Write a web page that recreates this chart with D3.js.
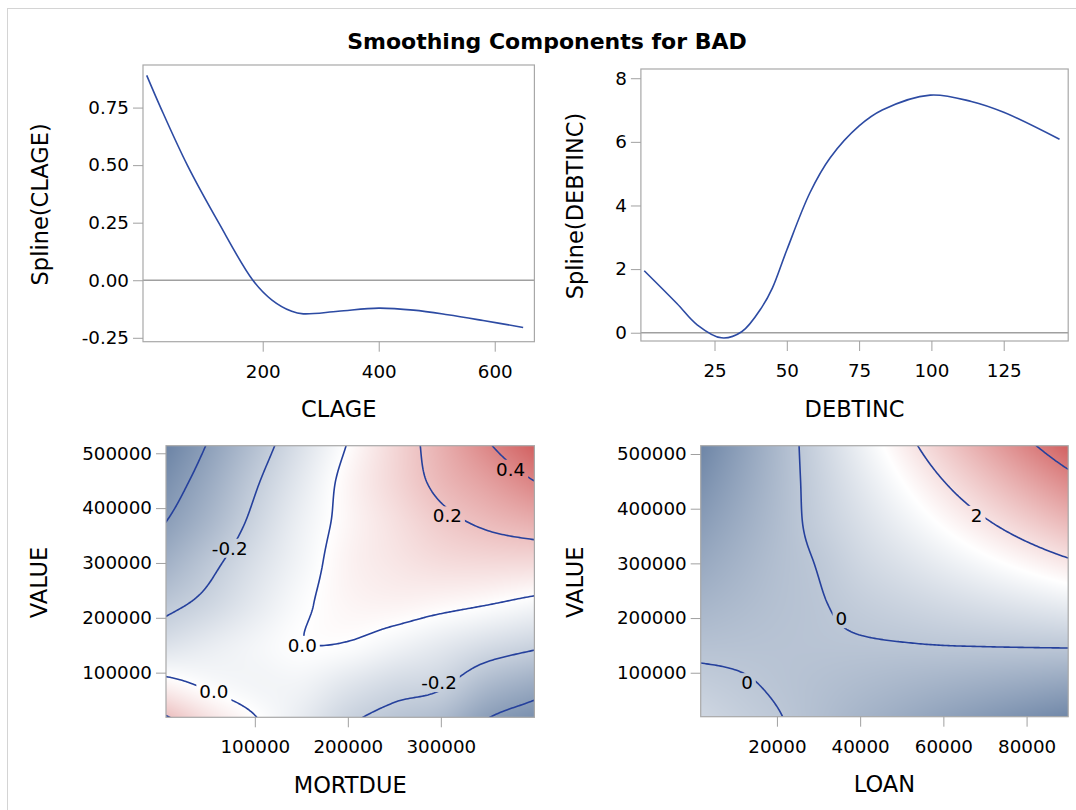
<!DOCTYPE html>
<html>
<head>
<meta charset="utf-8">
<script src="https://cdn.jsdelivr.net/npm/d3@7"></script>
<style>
  body { margin: 0; background: #fff; }
  text { font-family: "DejaVu Sans", sans-serif; fill: #000; }
</style>
</head>
<body>
<svg id="chart" width="1076" height="810"></svg>
<script>
// spline component for CLAGE
var clageX = [0, 24, 70, 124, 183, 216, 250, 270, 330, 400, 460, 519, 580, 649];
var clageY = [0.89, 0.75, 0.50, 0.25, 0.0, -0.086, -0.135, -0.146, -0.135, -0.121, -0.13, -0.15, -0.175, -0.205];
var clageTicks = [200, 400, 600];
var clageYTicks = [-0.25, 0, 0.25, 0.5, 0.75];

// spline component for DEBTINC
var debtX = [0.7, 12, 19, 27.4, 34.4, 41.5, 45, 50, 58, 65, 75, 83, 99.6, 113.8, 125, 144.3];
var debtY = [1.95, 0.92, 0.25, -0.16, 0.03, 0.82, 1.4, 2.6, 4.4, 5.5, 6.5, 7.0, 7.47, 7.27, 6.93, 6.08];
var debtTicks = [25, 50, 75, 100, 125];
var debtYTicks = [0, 2, 4, 6, 8];

// surface MORTDUE x VALUE (rows = VALUE, bottom to top)
var mortdueGrid = [0, 50000, 100000, 150000, 200000, 250000, 300000, 350000, 400000];
var valueGrid = [0, 75000, 150000, 225000, 300000, 375000, 450000, 525000];
var mortValueZ = [
  [0.28, 0.13, 0.02, -0.09, -0.20, -0.26, -0.31, -0.43, -0.49],
  [0.05, -0.01, -0.04, -0.05, -0.11, -0.16, -0.19, -0.29, -0.35],
  [-0.125, -0.08, -0.04, -0.003, -0.006, -0.045, -0.09, -0.14, -0.18],
  [-0.235, -0.17, -0.09, -0.015, 0.03, 0.04, 0.025, 0.003, -0.03],
  [-0.33, -0.23, -0.13, -0.04, 0.04, 0.08, 0.11, 0.12, 0.12],
  [-0.41, -0.30, -0.175, -0.06, 0.03, 0.10, 0.17, 0.22, 0.26],
  [-0.47, -0.35, -0.215, -0.09, 0.03, 0.13, 0.23, 0.31, 0.40],
  [-0.53, -0.40, -0.265, -0.13, 0.0, 0.13, 0.26, 0.40, 0.53]
];
var mortTicks = [100000, 200000, 300000];
var mortLevels = [-0.4, -0.2, 0, 0.2, 0.4];
var mortLabels = [
  {t: "-0.2", x: 73000, y: 327000},
  {t: "0.0", x: 151000, y: 150000},
  {t: "0.0", x: 56000, y: 65000},
  {t: "-0.2", x: 298000, y: 82000},
  {t: "0.2", x: 307000, y: 386000},
  {t: "0.4", x: 375000, y: 471000}
];

// surface LOAN x VALUE
var loanGrid = [0, 10000, 20000, 30000, 40000, 50000, 60000, 70000, 80000, 90000];
var loanValueZ = [
  [0.54, 0.27, 0.06, -0.22, -0.51, -0.77, -1.04, -1.30, -1.56, -1.82],
  [0.20, 0.08, -0.05, -0.17, -0.29, -0.41, -0.53, -0.65, -0.77, -0.90],
  [-0.14, -0.12, -0.10, -0.08, -0.055, -0.03, 0.0, 0.02, 0.04, 0.06],
  [-0.48, -0.32, -0.16, -0.04, 0.16, 0.32, 0.48, 0.64, 0.80, 0.96],
  [-0.81, -0.51, -0.21, 0.03, 0.39, 0.68, 0.98, 1.28, 1.58, 1.88],
  [-1.15, -0.71, -0.27, 0.17, 0.61, 1.05, 1.49, 1.93, 2.37, 2.81],
  [-1.49, -0.91, -0.33, 0.25, 0.83, 1.41, 1.99, 2.57, 3.15, 3.73],
  [-1.82, -1.10, -0.38, 0.34, 1.06, 1.78, 2.50, 3.22, 3.94, 4.66]
];
var loanTicks = [20000, 40000, 60000, 80000];
var valueTicks = [100000, 200000, 300000, 400000, 500000];
var loanLevels = [-2, 0, 2, 4];
var loanLabels = [
  {t: "2", x: 68000, y: 388000},
  {t: "0", x: 35500, y: 199000},
  {t: "0", x: 12800, y: 82000}
];

var svg = d3.select("#chart");
var defs = svg.append("defs");

// plain hyphen for negatives, like the original
function fmt(spec) {
  var f = d3.format(spec);
  return function(d) { return f(d).replace("\u2212", "-"); };
}

svg.append("rect")
  .attr("x", 7.5).attr("y", 8.5)
  .attr("width", 1090).attr("height", 830)
  .attr("fill", "none").attr("stroke", "#d4d4d4");

svg.append("text")
  .attr("x", 547).attr("y", 49)
  .attr("text-anchor", "middle")
  .style("font-size", "22px").style("font-weight", "bold")
  .text("Smoothing Components for BAD");

var frames = [
  {x0: 143, x1: 534.4, y0: 65, y1: 341.7},
  {x0: 640.9, x1: 1068.2, y0: 69, y1: 341},
  {x0: 166, x1: 534.4, y0: 445.7, y1: 717.3},
  {x0: 700.7, x1: 1068.2, y0: 445.7, y1: 716.7}
];

function drawAxes(f, x, y, xTicks, yTicks, xFmt, yFmt) {
  var ax = svg.append("g")
    .attr("transform", "translate(0," + f.y1 + ")")
    .call(d3.axisBottom(x).tickValues(xTicks).tickFormat(xFmt).tickSize(10).tickPadding(13));
  var ay = svg.append("g")
    .attr("transform", "translate(" + f.x0 + ",0)")
    .call(d3.axisLeft(y).tickValues(yTicks).tickFormat(yFmt).tickSize(10).tickPadding(4));
  [ax, ay].forEach(function(g) {
    g.select(".domain").remove();
    g.attr("font-family", null).attr("font-size", null);
    g.selectAll("line").attr("stroke", "#a0a0a0");
    g.selectAll("text").attr("fill", "#000").style("font-size", "18.3px");
  });
}

function drawFrame(f) {
  svg.append("rect")
    .attr("x", f.x0).attr("y", f.y0)
    .attr("width", f.x1 - f.x0).attr("height", f.y1 - f.y0)
    .attr("fill", "none").attr("stroke", "#a8a8a8").attr("stroke-width", 1.2);
}

function axisLabels(f, xl, yl, xBase, yBase) {
  svg.append("text")
    .attr("x", (f.x0 + f.x1) / 2).attr("y", xBase)
    .attr("text-anchor", "middle").style("font-size", "22.5px")
    .text(xl);
  svg.append("text")
    .attr("transform", "translate(" + yBase + "," + ((f.y0 + f.y1) / 2 + 1) + ") rotate(-90)")
    .attr("text-anchor", "middle").style("font-size", "22.5px")
    .text(yl);
}

function splinePanel(f, xd, yd, xs, ys, xTicks, yTicks, yFmt) {
  var x = d3.scaleLinear().domain(xd).range([f.x0, f.x1]);
  var y = d3.scaleLinear().domain(yd).range([f.y1, f.y0]);

  svg.append("line")
    .attr("x1", f.x0).attr("x2", f.x1)
    .attr("y1", y(0)).attr("y2", y(0))
    .attr("stroke", "#a0a0a0").attr("stroke-width", 1.3);

  var line = d3.line()
    .x(function(d, i) { return x(xs[i]); })
    .y(function(d, i) { return y(ys[i]); })
    .curve(d3.curveCatmullRom.alpha(0.5));

  svg.append("path")
    .attr("d", line(xs))
    .attr("fill", "none")
    .attr("stroke", "#2d4ba3")
    .attr("stroke-width", 1.6);

  drawFrame(f);
  drawAxes(f, x, y, xTicks, yTicks, fmt("d"), yFmt);
}

// smooth (catmull-rom) lookup into a grid
function surface(gx, gy, z, vx, vy) {
  var nx = gx.length, ny = gy.length;
  var u = (vx - gx[0]) / (gx[1] - gx[0]), v = (vy - gy[0]) / (gy[1] - gy[0]);
  u = Math.max(0, Math.min(nx - 1, u));
  v = Math.max(0, Math.min(ny - 1, v));
  var i = Math.min(Math.floor(u), nx - 2), j = Math.min(Math.floor(v), ny - 2);
  var fu = u - i, fv = v - j;
  function at(r, c) {
    if (c < 0) return 2 * at(r, 0) - at(r, 1);
    if (c > nx - 1) return 2 * at(r, nx - 1) - at(r, nx - 2);
    if (r < 0) return 2 * at(0, c) - at(1, c);
    if (r > ny - 1) return 2 * at(ny - 1, c) - at(ny - 2, c);
    return z[r][c];
  }
  function cr(p0, p1, p2, p3, t) {
    return 0.5 * (2 * p1 + (-p0 + p2) * t + (2 * p0 - 5 * p1 + 4 * p2 - p3) * t * t + (-p0 + 3 * p1 - 3 * p2 + p3) * t * t * t);
  }
  var rows = [];
  for (var k = -1; k <= 2; k++) {
    rows.push(cr(at(j + k, i - 1), at(j + k, i), at(j + k, i + 1), at(j + k, i + 2), fu));
  }
  return cr(rows[0], rows[1], rows[2], rows[3], fv);
}

function contourPanel(f, id, xd, yd, gx, gy, z, levels, labels, xTicks) {
  var x = d3.scaleLinear().domain(xd).range([f.x0, f.x1]);
  var y = d3.scaleLinear().domain(yd).range([f.y1, f.y0]);
  var flat = d3.merge(z);
  var lo = d3.min(flat), hi = d3.max(flat);
  var color = d3.scaleLinear()
    .domain([lo, (lo + hi) / 2, hi])
    .range(["#667fa2", "#ffffff", "#d05b5b"]);

  // colour surface
  var w = Math.round(f.x1 - f.x0), h = Math.round(f.y1 - f.y0);
  var canvas = document.createElement("canvas");
  canvas.width = w; canvas.height = h;
  var ctx = canvas.getContext("2d");
  var img = ctx.createImageData(w, h);
  for (var j = 0; j < h; j++) {
    for (var i = 0; i < w; i++) {
      var c = d3.rgb(color(surface(gx, gy, z, x.invert(f.x0 + i + 0.5), y.invert(f.y0 + j + 0.5))));
      var k = (j * w + i) * 4;
      img.data[k] = c.r; img.data[k + 1] = c.g; img.data[k + 2] = c.b; img.data[k + 3] = 255;
    }
  }
  ctx.putImageData(img, 0, 0);
  svg.append("image")
    .attr("x", f.x0).attr("y", f.y0)
    .attr("width", f.x1 - f.x0).attr("height", f.y1 - f.y0)
    .attr("preserveAspectRatio", "none")
    .attr("href", canvas.toDataURL());

  // contour lines
  var step = 2, pad = 8;
  var nx = Math.ceil((f.x1 - f.x0 + 2 * pad) / step) + 1;
  var ny = Math.ceil((f.y1 - f.y0 + 2 * pad) / step) + 1;
  var vals = new Array(nx * ny);
  for (var r = 0; r < ny; r++) {
    for (var q = 0; q < nx; q++) {
      vals[r * nx + q] = surface(gx, gy, z, x.invert(f.x0 - pad + q * step), y.invert(f.y0 - pad + r * step));
    }
  }
  var contours = d3.contours().size([nx, ny]).thresholds(levels)(vals);
  var proj = d3.geoTransform({
    point: function(px, py) {
      this.stream.point(f.x0 - pad + (px - 0.5) * step, f.y0 - pad + (py - 0.5) * step);
    }
  });
  var path = d3.geoPath(proj);

  defs.append("clipPath").attr("id", id + "-clip")
    .append("rect")
    .attr("x", f.x0).attr("y", f.y0)
    .attr("width", f.x1 - f.x0).attr("height", f.y1 - f.y0);
  var mask = defs.append("mask").attr("id", id + "-mask")
    .attr("maskUnits", "userSpaceOnUse")
    .attr("x", 0).attr("y", 0).attr("width", 1076).attr("height", 810);
  mask.append("rect").attr("x", 0).attr("y", 0).attr("width", 1076).attr("height", 810).attr("fill", "#fff");

  svg.append("g")
    .attr("clip-path", "url(#" + id + "-clip)")
    .append("g")
    .attr("mask", "url(#" + id + "-mask)")
    .selectAll("path")
    .data(contours)
    .enter()
    .append("path")
      .attr("d", path)
      .attr("fill", "none")
      .attr("stroke", "#25409c")
      .attr("stroke-width", 1.6);

  labels.forEach(function(l) {
    var t = svg.append("text")
      .attr("x", x(l.x)).attr("y", y(l.y))
      .attr("dy", "0.36em")
      .attr("text-anchor", "middle")
      .style("font-size", "18.3px")
      .text(l.t);
    var b = t.node().getBBox();
    mask.append("rect")
      .attr("x", b.x - 3).attr("y", b.y + 1)
      .attr("width", b.width + 6).attr("height", b.height - 2)
      .attr("fill", "#000");
  });

  drawFrame(f);
  drawAxes(f, x, y, xTicks, valueTicks, fmt("d"), fmt("d"));
}

splinePanel(frames[0], [-6.4, 668.4], [-0.267, 0.935], clageX, clageY, clageTicks, clageYTicks, fmt(".2f"));
axisLabels(frames[0], "CLAGE", "Spline(CLAGE)", 417, 48);

splinePanel(frames[1], [-0.45, 147.3], [-0.26, 8.29], debtX, debtY, debtTicks, debtYTicks, fmt("d"));
axisLabels(frames[1], "DEBTINC", "Spline(DEBTINC)", 416.7, 582.7);

contourPanel(frames[2], "mv", [4500, 400600], [18600, 513800], mortdueGrid, valueGrid, mortValueZ, mortLevels, mortLabels, mortTicks);
axisLabels(frames[2], "MORTDUE", "VALUE", 793.3, 46.5);

contourPanel(frames[3], "lv", [1680, 90000], [19600, 515200], loanGrid, valueGrid, loanValueZ, loanLevels, loanLabels, loanTicks);
axisLabels(frames[3], "LOAN", "VALUE", 791.7, 582.7);
</script>
</body>
</html>
